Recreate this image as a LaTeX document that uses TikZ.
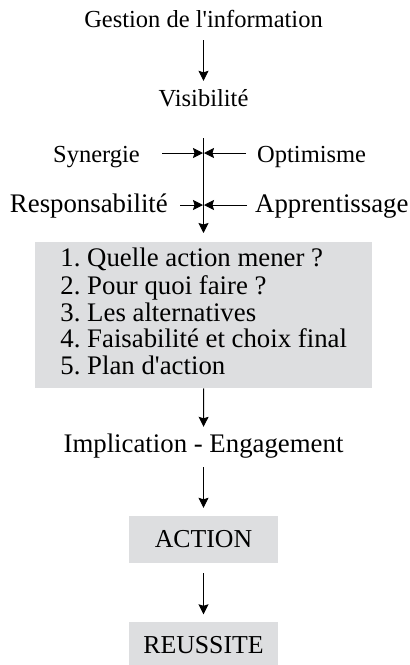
\documentclass[tikz,border=0pt]{standalone}
\usepackage{fontspec}
\setmainfont{Liberation Serif}
\usepackage{xcolor}
\usetikzlibrary{arrows.meta}

\definecolor{fondgris}{RGB}{221,222,224}

\tikzset{
    petit/.style={font=\fontsize{24.5}{26}\selectfont, inner sep=0pt, text height=18pt, text depth=6pt},
    grand/.style={font=\fontsize{26.8}{26.6}\selectfont, inner sep=0pt, text height=20pt, text depth=7pt},
    cadre/.style={fill=fondgris, inner sep=0pt, font=\fontsize{25.8}{26}\selectfont, minimum width=149pt, minimum height=47pt},
    etapes/.style={fill=fondgris, font=\fontsize{26.8}{26.6}\selectfont\frenchspacing, align=left,
        inner sep=0pt, minimum width=337pt, minimum height=146pt},
    fleche/.style={-{Stealth[length=10pt,width=10pt,inset=1.5pt]}, line width=0.9pt}
}

\begin{document}
\begin{tikzpicture}[x=1pt,y=-1pt]

    \useasboundingbox (0,0) rectangle (410,665);

    % Haut du schema
    \node[petit, anchor=base] (gestion) at (203.5,27) {Gestion de l\textquotesingle information};
    \node[petit, anchor=base] (visib) at (203.5,106) {Visibilité};

    % Les quatre facteurs
    \node[petit, anchor=base east] (synergie) at (140,162) {Synergie};
    \node[petit, anchor=base west] (optim) at (257,162) {Optimisme};
    \node[grand, anchor=base east] (respons) at (168,212) {Responsabilité};
    \node[grand, anchor=base west] (apprent) at (255,212) {Apprentissage};

    % Les cinq etapes
    \node[etapes, anchor=north west] (liste) at (35,242) {\strut 1. Quelle action mener ?\\
        2. Pour quoi faire ?\\
        3. Les alternatives\\
        4. Faisabilité et choix final\\
        5. Plan d\textquotesingle action\strut};

    % Bas du schema
    \node[grand, anchor=base] (implic) at (203.5,452) {Implication - Engagement};
    \node[cadre] (action) at (203.5,539.5) {ACTION};
    \node[cadre] (reussite) at (203.5,645) {REUSSITE};

    % Points sur l'axe
    \coordinate (haut) at (203.5,138);
    \coordinate (s) at (203.5,153);
    \coordinate (r) at (203.5,205);

    % Fleches verticales
    \draw[fleche, shorten <=7pt, shorten >=7pt] (gestion) -- (visib);
    \draw[fleche, shorten >=9pt] (haut) -- (haut |- liste.north);
    \draw[fleche, shorten >=5pt] (liste.south) -- (implic.north);
    \draw[fleche, shorten <=8pt, shorten >=8pt] (implic) -- (action);
    \draw[fleche, shorten <=10pt, shorten >=7pt] (action) -- (reussite);

    % Fleches horizontales
    \draw[fleche, shorten <=22pt, shorten >=0.5pt] (synergie.east |- s) -- (s);
    \draw[fleche, shorten <=11pt, shorten >=0.5pt] (optim.west |- s) -- (s);
    \draw[fleche, shorten <=12pt, shorten >=0.5pt] (respons.east |- r) -- (r);
    \draw[fleche, shorten <=8pt, shorten >=0.5pt] (apprent.west |- r) -- (r);

\end{tikzpicture}
\end{document}
